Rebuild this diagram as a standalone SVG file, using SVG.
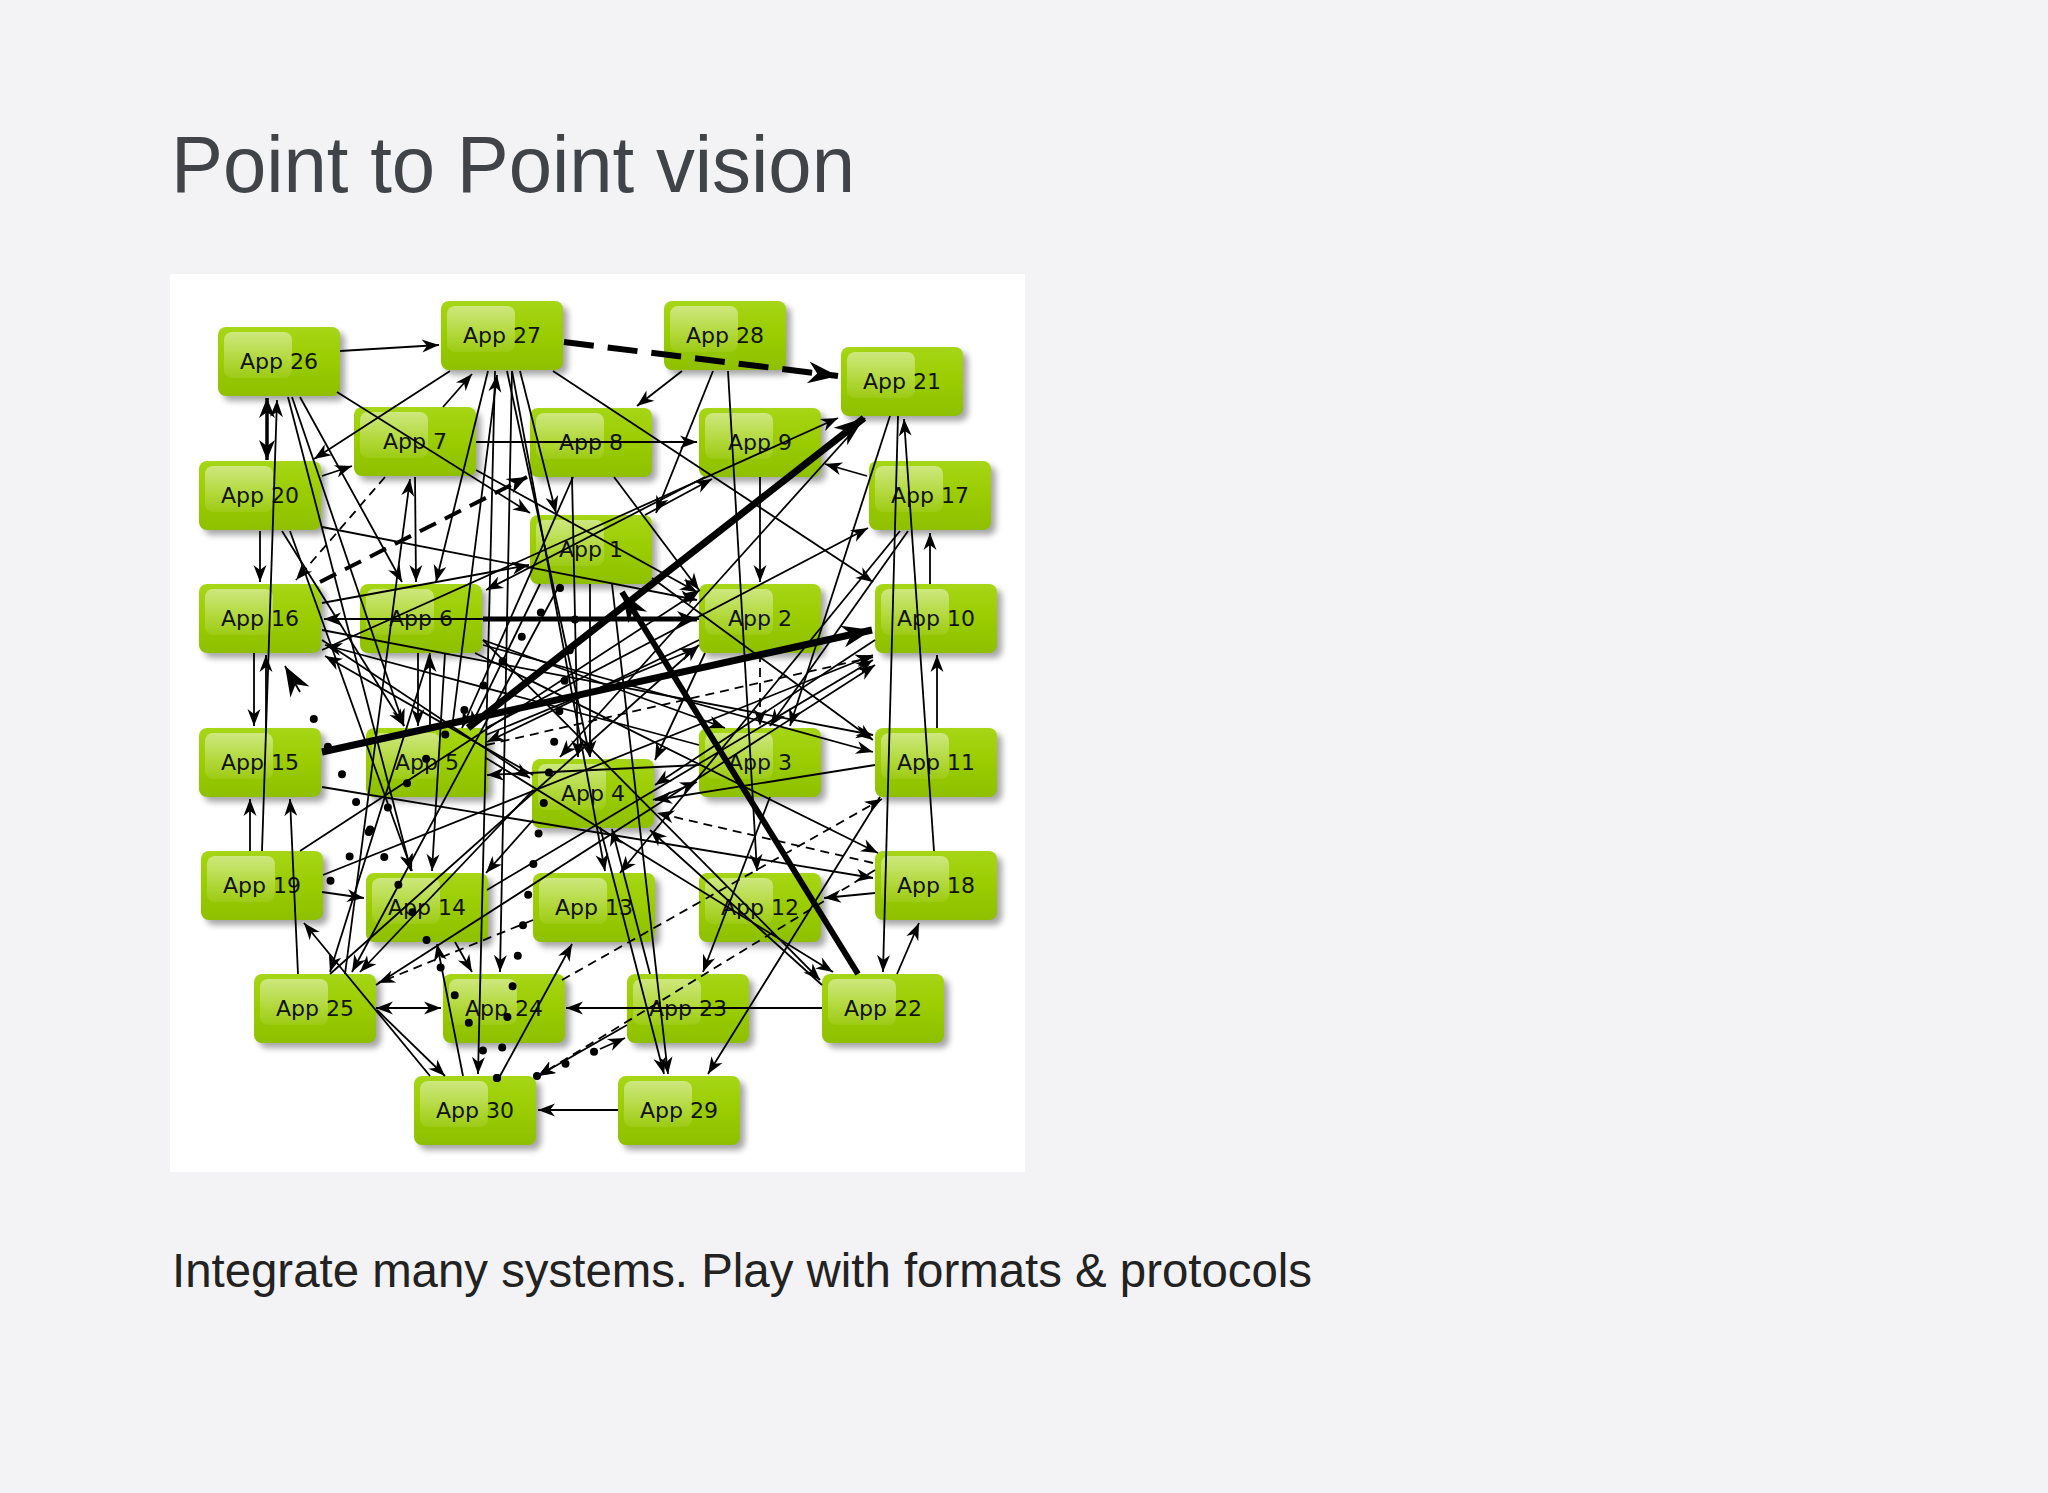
<svg xmlns="http://www.w3.org/2000/svg" width="2048" height="1493" viewBox="0 0 2048 1493">
<defs>
<style>
.bg{fill:#f3f2f4}
.panel{fill:#ffffff}
.title{font-family:"Liberation Sans",Arial,sans-serif;font-size:80px;fill:#404448}
.sub{font-family:"Liberation Sans",Arial,sans-serif;font-size:48px;fill:#222222}
.sh{fill:#000;opacity:0.35;filter:url(#blur)}
.bx{fill:url(#gg)}
.hl{fill:url(#hg)}
.lbl{font-family:"DejaVu Sans",Verdana,sans-serif;font-size:22px;fill:#111;text-anchor:middle}
.e{stroke:#000;stroke-width:1.8;fill:none;marker-end:url(#a)}
.d{stroke:#000;stroke-width:1.8;fill:none;stroke-dasharray:9 6;marker-end:url(#a)}
.m{stroke:#000;stroke-width:4;fill:none;stroke-dasharray:18 10;marker-end:url(#a2)}
.t{stroke:#000;stroke-width:7;fill:none;marker-end:url(#A)}
.td{stroke:#000;stroke-width:6;fill:none;stroke-dasharray:30 14;marker-end:url(#A)}
.p{stroke:#000;stroke-width:8;fill:none;stroke-dasharray:0 31;stroke-linecap:round}
</style>
<filter id="blur" x="-20%" y="-20%" width="150%" height="160%"><feGaussianBlur stdDeviation="3"/></filter>
<linearGradient id="gg" x1="0" y1="0" x2="0" y2="1">
<stop offset="0" stop-color="#a6d616"/><stop offset="0.5" stop-color="#9acc00"/><stop offset="1" stop-color="#8ec000"/>
</linearGradient>
<linearGradient id="hg" x1="0" y1="0" x2="0" y2="1">
<stop offset="0" stop-color="#ffffff" stop-opacity="0.45"/><stop offset="1" stop-color="#ffffff" stop-opacity="0.08"/>
</linearGradient>
<marker id="a" markerUnits="userSpaceOnUse" markerWidth="20" markerHeight="14" refX="17" refY="6.5" orient="auto-start-reverse" viewBox="0 0 20 14" overflow="visible">
<path d="M0,0 L17,6.5 L0,13 L5,6.5 z" fill="#000"/>
</marker>
<marker id="a2" markerUnits="userSpaceOnUse" markerWidth="22" markerHeight="18" refX="20" refY="8" orient="auto-start-reverse" viewBox="0 0 22 18" overflow="visible">
<path d="M0,0 L20,8 L0,16 L6,8 z" fill="#000"/>
</marker>
<marker id="A" markerUnits="userSpaceOnUse" markerWidth="32" markerHeight="24" refX="30" refY="11" orient="auto" viewBox="0 0 32 24" overflow="visible">
<path d="M0,0 L30,11 L0,22 L9,11 z" fill="#000"/>
</marker>
</defs>
<rect class="bg" x="0" y="0" width="2048" height="1493"/>
<text class="title" x="171" y="192" textLength="684" lengthAdjust="spacingAndGlyphs">Point to Point vision</text>
<rect class="panel" x="170" y="274" width="855" height="898"/>
<g id="nodes">
<g id="n26" transform="translate(218,327)"><rect class="sh" x="5" y="5" width="122" height="69" rx="8"/><rect class="bx" width="122" height="69" rx="8"/><rect class="hl" x="6" y="5" width="68" height="46" rx="8"/><text class="lbl" x="61" y="42">App 26</text></g>
<g id="n27" transform="translate(441,301)"><rect class="sh" x="5" y="5" width="122" height="69" rx="8"/><rect class="bx" width="122" height="69" rx="8"/><rect class="hl" x="6" y="5" width="68" height="46" rx="8"/><text class="lbl" x="61" y="42">App 27</text></g>
<g id="n28" transform="translate(664,301)"><rect class="sh" x="5" y="5" width="122" height="69" rx="8"/><rect class="bx" width="122" height="69" rx="8"/><rect class="hl" x="6" y="5" width="68" height="46" rx="8"/><text class="lbl" x="61" y="42">App 28</text></g>
<g id="n21" transform="translate(841,347)"><rect class="sh" x="5" y="5" width="122" height="69" rx="8"/><rect class="bx" width="122" height="69" rx="8"/><rect class="hl" x="6" y="5" width="68" height="46" rx="8"/><text class="lbl" x="61" y="42">App 21</text></g>
<g id="n7" transform="translate(354,407)"><rect class="sh" x="5" y="5" width="122" height="69" rx="8"/><rect class="bx" width="122" height="69" rx="8"/><rect class="hl" x="6" y="5" width="68" height="46" rx="8"/><text class="lbl" x="61" y="42">App 7</text></g>
<g id="n8" transform="translate(530,408)"><rect class="sh" x="5" y="5" width="122" height="69" rx="8"/><rect class="bx" width="122" height="69" rx="8"/><rect class="hl" x="6" y="5" width="68" height="46" rx="8"/><text class="lbl" x="61" y="42">App 8</text></g>
<g id="n9" transform="translate(699,408)"><rect class="sh" x="5" y="5" width="122" height="69" rx="8"/><rect class="bx" width="122" height="69" rx="8"/><rect class="hl" x="6" y="5" width="68" height="46" rx="8"/><text class="lbl" x="61" y="42">App 9</text></g>
<g id="n20" transform="translate(199,461)"><rect class="sh" x="5" y="5" width="122" height="69" rx="8"/><rect class="bx" width="122" height="69" rx="8"/><rect class="hl" x="6" y="5" width="68" height="46" rx="8"/><text class="lbl" x="61" y="42">App 20</text></g>
<g id="n17" transform="translate(869,461)"><rect class="sh" x="5" y="5" width="122" height="69" rx="8"/><rect class="bx" width="122" height="69" rx="8"/><rect class="hl" x="6" y="5" width="68" height="46" rx="8"/><text class="lbl" x="61" y="42">App 17</text></g>
<g id="n1" transform="translate(530,515)"><rect class="sh" x="5" y="5" width="122" height="69" rx="8"/><rect class="bx" width="122" height="69" rx="8"/><rect class="hl" x="6" y="5" width="68" height="46" rx="8"/><text class="lbl" x="61" y="42">App 1</text></g>
<g id="n16" transform="translate(199,584)"><rect class="sh" x="5" y="5" width="122" height="69" rx="8"/><rect class="bx" width="122" height="69" rx="8"/><rect class="hl" x="6" y="5" width="68" height="46" rx="8"/><text class="lbl" x="61" y="42">App 16</text></g>
<g id="n6" transform="translate(360,584)"><rect class="sh" x="5" y="5" width="122" height="69" rx="8"/><rect class="bx" width="122" height="69" rx="8"/><rect class="hl" x="6" y="5" width="68" height="46" rx="8"/><text class="lbl" x="61" y="42">App 6</text></g>
<g id="n2" transform="translate(699,584)"><rect class="sh" x="5" y="5" width="122" height="69" rx="8"/><rect class="bx" width="122" height="69" rx="8"/><rect class="hl" x="6" y="5" width="68" height="46" rx="8"/><text class="lbl" x="61" y="42">App 2</text></g>
<g id="n10" transform="translate(875,584)"><rect class="sh" x="5" y="5" width="122" height="69" rx="8"/><rect class="bx" width="122" height="69" rx="8"/><rect class="hl" x="6" y="5" width="68" height="46" rx="8"/><text class="lbl" x="61" y="42">App 10</text></g>
<g id="n15" transform="translate(199,728)"><rect class="sh" x="5" y="5" width="122" height="69" rx="8"/><rect class="bx" width="122" height="69" rx="8"/><rect class="hl" x="6" y="5" width="68" height="46" rx="8"/><text class="lbl" x="61" y="42">App 15</text></g>
<g id="n5" transform="translate(366,728)"><rect class="sh" x="5" y="5" width="122" height="69" rx="8"/><rect class="bx" width="122" height="69" rx="8"/><rect class="hl" x="6" y="5" width="68" height="46" rx="8"/><text class="lbl" x="61" y="42">App 5</text></g>
<g id="n3" transform="translate(699,728)"><rect class="sh" x="5" y="5" width="122" height="69" rx="8"/><rect class="bx" width="122" height="69" rx="8"/><rect class="hl" x="6" y="5" width="68" height="46" rx="8"/><text class="lbl" x="61" y="42">App 3</text></g>
<g id="n11" transform="translate(875,728)"><rect class="sh" x="5" y="5" width="122" height="69" rx="8"/><rect class="bx" width="122" height="69" rx="8"/><rect class="hl" x="6" y="5" width="68" height="46" rx="8"/><text class="lbl" x="61" y="42">App 11</text></g>
<g id="n4" transform="translate(532,759)"><rect class="sh" x="5" y="5" width="122" height="69" rx="8"/><rect class="bx" width="122" height="69" rx="8"/><rect class="hl" x="6" y="5" width="68" height="46" rx="8"/><text class="lbl" x="61" y="42">App 4</text></g>
<g id="n19" transform="translate(201,851)"><rect class="sh" x="5" y="5" width="122" height="69" rx="8"/><rect class="bx" width="122" height="69" rx="8"/><rect class="hl" x="6" y="5" width="68" height="46" rx="8"/><text class="lbl" x="61" y="42">App 19</text></g>
<g id="n18" transform="translate(875,851)"><rect class="sh" x="5" y="5" width="122" height="69" rx="8"/><rect class="bx" width="122" height="69" rx="8"/><rect class="hl" x="6" y="5" width="68" height="46" rx="8"/><text class="lbl" x="61" y="42">App 18</text></g>
<g id="n14" transform="translate(366,873)"><rect class="sh" x="5" y="5" width="122" height="69" rx="8"/><rect class="bx" width="122" height="69" rx="8"/><rect class="hl" x="6" y="5" width="68" height="46" rx="8"/><text class="lbl" x="61" y="42">App 14</text></g>
<g id="n13" transform="translate(533,873)"><rect class="sh" x="5" y="5" width="122" height="69" rx="8"/><rect class="bx" width="122" height="69" rx="8"/><rect class="hl" x="6" y="5" width="68" height="46" rx="8"/><text class="lbl" x="61" y="42">App 13</text></g>
<g id="n12" transform="translate(699,873)"><rect class="sh" x="5" y="5" width="122" height="69" rx="8"/><rect class="bx" width="122" height="69" rx="8"/><rect class="hl" x="6" y="5" width="68" height="46" rx="8"/><text class="lbl" x="61" y="42">App 12</text></g>
<g id="n25" transform="translate(254,974)"><rect class="sh" x="5" y="5" width="122" height="69" rx="8"/><rect class="bx" width="122" height="69" rx="8"/><rect class="hl" x="6" y="5" width="68" height="46" rx="8"/><text class="lbl" x="61" y="42">App 25</text></g>
<g id="n24" transform="translate(443,974)"><rect class="sh" x="5" y="5" width="122" height="69" rx="8"/><rect class="bx" width="122" height="69" rx="8"/><rect class="hl" x="6" y="5" width="68" height="46" rx="8"/><text class="lbl" x="61" y="42">App 24</text></g>
<g id="n23" transform="translate(627,974)"><rect class="sh" x="5" y="5" width="122" height="69" rx="8"/><rect class="bx" width="122" height="69" rx="8"/><rect class="hl" x="6" y="5" width="68" height="46" rx="8"/><text class="lbl" x="61" y="42">App 23</text></g>
<g id="n22" transform="translate(822,974)"><rect class="sh" x="5" y="5" width="122" height="69" rx="8"/><rect class="bx" width="122" height="69" rx="8"/><rect class="hl" x="6" y="5" width="68" height="46" rx="8"/><text class="lbl" x="61" y="42">App 22</text></g>
<g id="n30" transform="translate(414,1076)"><rect class="sh" x="5" y="5" width="122" height="69" rx="8"/><rect class="bx" width="122" height="69" rx="8"/><rect class="hl" x="6" y="5" width="68" height="46" rx="8"/><text class="lbl" x="61" y="42">App 30</text></g>
<g id="n29" transform="translate(618,1076)"><rect class="sh" x="5" y="5" width="122" height="69" rx="8"/><rect class="bx" width="122" height="69" rx="8"/><rect class="hl" x="6" y="5" width="68" height="46" rx="8"/><text class="lbl" x="61" y="42">App 29</text></g>
</g>
<g id="connectors">
<path class="e" d="M340,351L439,345"/>
<path class="e" d="M682,371L637,406"/>
<path class="e" d="M476,442L697,442"/>
<path class="e" d="M262,851L277,400"/>
<path class="e" d="M288,397L411,871"/>
<path class="e" d="M300,397L402,582"/>
<path class="e" d="M292,397L404,726"/>
<path class="e" d="M337,392L530,513"/>
<path class="e" d="M450,371L314,459"/>
<path class="e" d="M322,476L352,466"/>
<path class="e" d="M443,407L472,374"/>
<path class="e" d="M488,371L436,582"/>
<path class="e" d="M452,728L497,375"/>
<path class="e" d="M713,371L656,513"/>
<path class="e" d="M728,371L757,871"/>
<path class="e" d="M760,477L760,582"/>
<path class="e" d="M322,650L838,418"/>
<path class="e" d="M867,476L825,464"/>
<path class="e" d="M890,416L790,726"/>
<path class="e" d="M898,416L883,972"/>
<path class="e" d="M934,851L904,419"/>
<path class="e" d="M937,728L937,655"/>
<path class="e" d="M930,584L930,533"/>
<path class="e" d="M897,974L919,923"/>
<path class="e" d="M875,893L824,898"/>
<path class="e" d="M822,1008L566,1008"/>
<path class="e" d="M618,1110L538,1110"/>
<path class="e" d="M376,1008L441,1008" style="marker-start:url(#a)"/>
<path class="e" d="M880,797L708,1074"/>
<path class="e" d="M600,827L664,1074"/>
<path class="e" d="M612,584L668,1074"/>
<path class="e" d="M486,758L833,972"/>
<path class="e" d="M483,640L820,980"/>
<path class="e" d="M770,797L703,972"/>
<path class="e" d="M260,531L260,582"/>
<path class="e" d="M254,653L254,726"/>
<path class="e" d="M266,728L266,655"/>
<path class="e" d="M250,851L250,799"/>
<path class="e" d="M298,974L290,799"/>
<path class="e" d="M430,1076L304,923"/>
<path class="e" d="M699,619L324,619"/>
<path class="e" d="M322,630L873,735"/>
<path class="e" d="M483,645L873,752"/>
<path class="e" d="M699,745L325,645"/>
<path class="e" d="M533,775L325,656"/>
<path class="e" d="M430,728L430,655"/>
<path class="e" d="M418,653L418,726"/>
<path class="e" d="M415,477L416,582"/>
<path class="e" d="M445,653L432,871"/>
<path class="e" d="M495,371L478,1074"/>
<path class="e" d="M512,371L500,972"/>
<path class="e" d="M520,371L556,513"/>
<path class="e" d="M553,371L873,582"/>
<path class="e" d="M507,371L590,757"/>
<path class="e" d="M290,531L412,871"/>
<path class="e" d="M282,531L404,726"/>
<path class="e" d="M322,527L697,600"/>
<path class="e" d="M322,603L529,565"/>
<path class="e" d="M573,477L462,728"/>
<path class="e" d="M614,477L699,590"/>
<path class="e" d="M705,477L486,590"/>
<path class="e" d="M476,470L697,592"/>
<path class="e" d="M900,531L620,873"/>
<path class="e" d="M323,875L873,655"/>
<path class="e" d="M487,890L873,660"/>
<path class="e" d="M376,985L875,665"/>
<path class="e" d="M875,640L655,785"/>
<path class="e" d="M875,765L655,800"/>
<path class="e" d="M653,800L697,782"/>
<path class="e" d="M652,578L873,740"/>
<path class="e" d="M705,653L655,760"/>
<path class="e" d="M322,892L364,898"/>
<path class="e" d="M430,653L330,972"/>
<path class="e" d="M533,790L360,972"/>
<path class="e" d="M560,584L352,972"/>
<path class="e" d="M455,942L472,972"/>
<path class="e" d="M463,1076L437,944"/>
<path class="e" d="M500,1076L572,944"/>
<path class="e" d="M627,1025L538,1076"/>
<path class="e" d="M322,787L873,878"/>
<path class="e" d="M322,640L530,778"/>
<path class="e" d="M590,584L590,757"/>
<path class="e" d="M572,477L578,757"/>
<path class="e" d="M650,974L612,829"/>
<path class="e" d="M822,985L650,830"/>
<path class="e" d="M533,820L486,873"/>
<path class="e" d="M540,584L470,728"/>
<path class="e" d="M699,640L487,742"/>
<path class="e" d="M699,765L487,775"/>
<path class="e" d="M483,640L725,728"/>
<path class="e" d="M486,735L697,648"/>
<path class="e" d="M865,418L560,757"/>
<path class="e" d="M645,515L712,479"/>
<path class="e" d="M486,728L868,528"/>
<path class="e" d="M908,531L770,726"/>
<path class="e" d="M345,974L410,479"/>
<path class="e" d="M300,851L700,590"/>
<path class="e" d="M330,974L699,645"/>
<path class="e" d="M377,1010L445,1076"/>
<path class="e" d="M475,653L878,853"/>
<path class="e" d="M512,371L605,871"/>
<path class="d" d="M385,477L296,580"/>
<path class="d" d="M760,653L760,726"/>
<path class="d" d="M873,863L657,813"/>
<path class="d" d="M562,980L882,799"/>
<path class="d" d="M533,920L378,983"/>
<path class="d" d="M875,870L538,1076"/>
<path class="d" d="M486,745L873,657"/>
<path class="m" d="M320,582L527,477"/>
<path class="e" d="M267,398L267,460" style="stroke-width:3.5;marker-start:url(#a2);marker-end:url(#a2)"/>
<path class="t" d="M322,752L872,630"/>
<path class="t" d="M468,728L864,418"/>
<path class="t" d="M858,974L622,592" style="stroke-width:6"/>
<path class="t" d="M483,619L697,619" style="stroke-width:5;marker-end:url(#a2)"/>
<path class="td" d="M564,342L838,376"/>
<path class="p" d="M497,1078L300,692"/>
<path d="M300,692L285,666" style="stroke:#000;stroke-width:1.8;marker-end:url(#A)"/>
<path class="p" d="M497,1078L580,590"/>
<path class="p" d="M560,588L328,884"/>
<path class="p" d="M537,1076L612,1044"/>
<path d="M600,1049L625,1038" style="stroke:#000;stroke-width:1.8;marker-end:url(#a)"/>
</g>
<text class="sub" x="172" y="1287" textLength="1140" lengthAdjust="spacingAndGlyphs">Integrate many systems. Play with formats &amp; protocols</text>
</svg>
